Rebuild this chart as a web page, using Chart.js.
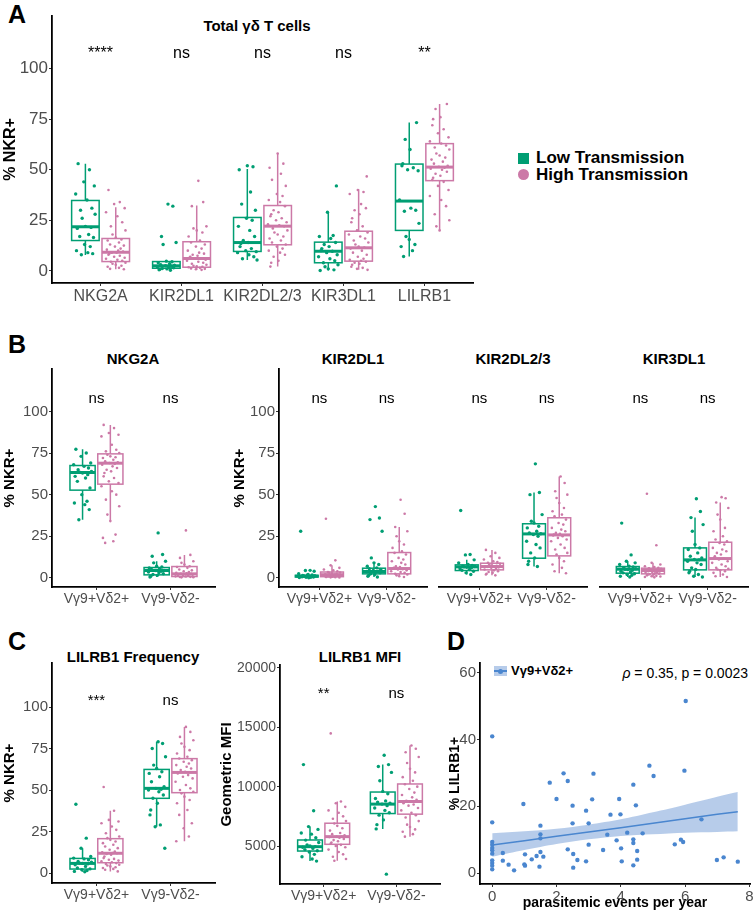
<!DOCTYPE html>
<html>
<head>
<meta charset="utf-8">
<script src="https://cdn.jsdelivr.net/npm/chart.js@4.4.1/dist/chart.umd.min.js"></script>
<style>
  body { margin: 0; width: 755px; height: 914px; position: relative; overflow: hidden; background: #fff;
         font-family: 'Liberation Sans', Arial, Helvetica, sans-serif; color: #000; }
  canvas, .abs { position: absolute; }
  .letter { font-size: 25px; font-weight: bold; line-height: 1; }
  .ttl { font-size: 15px; font-weight: bold; line-height: 18px; text-align: center; width: 200px; }
  .leg { font-size: 17px; font-weight: bold; line-height: 20px; white-space: nowrap; }
</style>
</head>
<body>

<div class="abs letter" style="left:8px;top:2px">A</div>
<div class="abs letter" style="left:8px;top:332px">B</div>
<div class="abs letter" style="left:8px;top:629px">C</div>
<div class="abs letter" style="left:447px;top:629px">D</div>

<div class="abs ttl" style="left:157px;top:17px">Total γδ T cells</div>
<div class="abs ttl" style="left:33px;top:350px">NKG2A</div>
<div class="abs ttl" style="left:253px;top:350px">KIR2DL1</div>
<div class="abs ttl" style="left:413px;top:350px">KIR2DL2/3</div>
<div class="abs ttl" style="left:574px;top:350px">KIR3DL1</div>
<div class="abs ttl" style="left:33px;top:648px">LILRB1 Frequency</div>
<div class="abs ttl" style="left:260px;top:648px">LILRB1 MFI</div>

<!-- legend A -->
<div class="abs" style="left:518px;top:153px;width:11px;height:11px;background:#009E73"></div>
<div class="abs" style="left:518px;top:169px;width:11px;height:11px;border-radius:50%;background:#CC79A7"></div>
<div class="abs leg" style="left:536px;top:148px">Low Transmission</div>
<div class="abs leg" style="left:536px;top:165px">High Transmission</div>

<!-- legend D + correlation text -->
<div class="abs" style="left:494px;top:666px;width:13px;height:10px;background:rgba(95,143,208,0.45)">
  <div class="abs" style="left:0;top:4px;width:13px;height:1.5px;background:#4A86CF"></div>
  <div class="abs" style="left:4px;top:2.5px;width:5px;height:5px;border-radius:50%;background:#4A86CF"></div>
</div>
<div class="abs" style="left:511px;top:662px;font-size:13px;font-weight:bold;line-height:18px">Vγ9+Vδ2+</div>
<div class="abs" style="right:7px;top:664px;font-size:14px;line-height:18px"><i>ρ</i> = 0.35, p = 0.0023</div>

<canvas id="cA" width="480" height="320" style="left:0;top:0"></canvas>
<canvas id="cB1" width="230" height="280" style="left:0;top:330px"></canvas>
<canvas id="cB2" width="205" height="280" style="left:230px;top:330px"></canvas>
<canvas id="cB3" width="157" height="280" style="left:435px;top:330px"></canvas>
<canvas id="cB4" width="163" height="280" style="left:592px;top:330px"></canvas>
<canvas id="cC1" width="225" height="274" style="left:0;top:640px"></canvas>
<canvas id="cC2" width="230" height="274" style="left:217px;top:640px"></canvas>
<canvas id="cD" width="311" height="274" style="left:444px;top:640px"></canvas>

<script>
// ---- Data: box stats are [lower whisker, Q1, median, Q3, upper whisker] ----
const A_CATS = ['NKG2A', 'KIR2DL1', 'KIR2DL2/3', 'KIR3DL1', 'LILRB1'];
const A_SIG = ['****', 'ns', 'ns', 'ns', '**'];
const A_LOW_BOX = [[7.9, 15, 21.8, 34.8, 53], [0.3, 1.3, 2.5, 4.6, 4.8], [5.4, 9.6, 14, 26.4, 50.3], [0.2, 4, 9.7, 14.2, 29], [7.1, 20, 34.5, 52.8, 73.3]];
const A_HIGH_BOX = [[0.8, 4.6, 9.2, 16, 31.5], [0.5, 1.8, 6.1, 14.4, 32.3], [2.1, 12.9, 22.1, 32.3, 58.2], [0.5, 4.8, 11.4, 19.6, 40.4], [20, 44.6, 51.3, 62.9, 82.5]];
const A_LOW_PTS = [
  [53, 50, 44, 42, 38, 35, 31, 30, 28, 26, 22, 21.5, 21, 18, 17, 16.5, 13, 12, 10, 9, 8.5, 8],
  [33, 32, 17, 14, 13, 4.8, 4.5, 4, 3.5, 3, 2.8, 2.5, 2.3, 2, 1.8, 1.5, 1.2, 1, 0.8, 0.5, 0.3],
  [52, 51.5, 50, 39, 33, 30, 26, 25, 22, 20, 17, 15, 14, 13.5, 12, 11, 10, 9.5, 9, 8, 7, 6, 5.4],
  [42, 29, 17.5, 17, 16, 14, 13, 12, 11, 10, 9.7, 9, 8, 7, 6, 5, 4, 3, 2, 1, 0.5, 0.2],
  [73.3, 65, 60, 53, 52, 51, 50, 49.5, 35, 31, 30, 29.5, 23.5, 17, 15.5, 13, 12, 10, 7.1]
];
const A_HIGH_PTS = [
  [40, 34, 33, 31, 29, 27, 24, 22, 20, 18, 16.5, 15.5, 15, 14, 13, 12.5, 12, 11, 10.5, 10, 9.5, 9, 9, 8.5, 8, 7.5, 7, 6.5, 6, 5.5, 5, 4.5, 4, 3.5, 3, 2.5, 2, 1.5, 1, 0.8],
  [44.5, 34, 32, 22, 21, 20, 19, 17, 15, 14, 13, 12, 11, 10, 9, 8.5, 8, 7.5, 7, 6.5, 6, 6, 5.5, 5, 4.5, 4, 3.5, 3, 2.5, 2.2, 2, 1.8, 1.5, 1.2, 1, 0.8, 0.5],
  [58, 53, 51, 48, 45, 42, 38, 37, 35, 34, 32, 30, 29, 28, 27, 26, 25, 24, 23, 22.5, 22, 21, 20, 19, 18, 17, 16, 15, 14, 13, 12, 11, 10, 9, 8, 7, 5, 4, 2.1],
  [46.7, 40, 39, 38, 33, 31, 30, 28, 26, 24, 22, 20, 19, 18, 17, 16, 15, 14, 13, 12, 11.5, 11, 10, 9, 8, 7, 6, 5.5, 5, 4.5, 4, 3.5, 3, 2, 1.5, 1, 0.5],
  [82.5, 80, 76, 75, 72, 70, 68, 66, 64, 63, 62, 61, 60, 58, 57, 56, 55, 54, 53, 52, 51.5, 51, 50.5, 50, 49, 48, 47, 46, 45, 44, 42, 40, 37, 35, 32, 28, 25, 22, 20]
];

const SUBSETS = ['Vγ9+Vδ2+', 'Vγ9-Vδ2-'];
// panel B, one entry per receptor (NKG2A, KIR2DL1, KIR2DL2/3, KIR3DL1), each [Vγ9+Vδ2+, Vγ9-Vδ2-]
const B_SIG = [['ns', 'ns'], ['ns', 'ns'], ['ns', 'ns'], ['ns', 'ns']];
const B_LOW_BOX = [
  [[34.9, 52.7, 63.3, 67.5, 77.3], [0.5, 1.8, 4.4, 6.2, 10]],
  [[0.1, 0.5, 1.0, 1.5, 2.5], [0.5, 2.4, 3.8, 5.8, 9]],
  [[2, 4.4, 6.6, 7.8, 10.8], [6.8, 11.8, 26.4, 32.5, 51.3]],
  [[0.5, 2.8, 5.2, 6.8, 10], [0.5, 4.8, 10.8, 18, 36.2]]
];
const B_HIGH_BOX = [
  [[34.1, 56.3, 68.9, 74.5, 91.9], [0.3, 0.8, 2.4, 6.8, 13.8]],
  [[0.2, 0.7, 1.9, 3.5, 7.5], [0.5, 2.4, 5.6, 15.2, 30.6]],
  [[1.5, 4.8, 6.8, 8.8, 16.8], [2.8, 13.2, 25.8, 36.1, 60.9]],
  [[0.3, 2.4, 4.4, 5.8, 9], [0.5, 4.8, 11.6, 21.4, 45.3]]
];
const B_LOW_PTS = [
  [[77.3, 75, 73, 69, 68, 67, 66, 65, 64, 63.5, 63, 62, 61, 60, 58, 54, 50, 46, 45, 44, 41, 34.9],
   [27, 14, 13, 10, 9, 7, 6.5, 6, 5.5, 5, 4.5, 4.4, 4, 3.5, 3, 2.5, 2, 1.5, 1, 0.5]],
  [[28, 4.5, 4.4, 4, 2.5, 2, 1.8, 1.5, 1.3, 1.1, 1, 0.9, 0.8, 0.7, 0.6, 0.5, 0.4, 0.3, 0.2, 0.1],
   [42.8, 36, 35, 28, 12, 9, 8, 7, 6, 5.5, 5, 4.5, 4, 3.8, 3.5, 3, 2.5, 2, 1.5, 1, 0.5]],
  [[40.5, 14, 13.8, 10.8, 9, 8, 7.5, 7, 6.8, 6.6, 6.4, 6, 5.5, 5, 4.5, 4, 3, 2],
   [68.5, 51.3, 50, 38, 34, 33, 31, 30, 28, 27, 26.5, 26, 25, 22, 20, 18, 15, 12, 10, 8, 6.8]],
  [[32.9, 13.8, 10, 9, 8, 7, 6.5, 6, 5.5, 5.2, 5, 4.5, 4, 3.5, 3, 2.5, 2, 1.5, 1, 0.5],
   [47.5, 39.9, 36.2, 32, 28, 20, 18, 17, 15, 13, 12, 11, 10.8, 10, 9, 8, 6, 5, 4, 3, 2, 1, 0.5]]
];
const B_HIGH_PTS = [
  [[91.9, 90, 87, 86, 85, 80, 77, 76, 75, 74, 73, 72.5, 72, 71, 70, 69.5, 69, 68.5, 68, 67, 66, 65, 64, 63, 61, 60, 58, 57, 55, 52, 50, 47, 43, 38, 34.1, 26, 24, 22, 21],
   [28.5, 13.8, 12, 10, 9, 8, 7, 6.5, 6, 5, 4.5, 4, 3.5, 3, 2.8, 2.5, 2.4, 2.2, 2, 1.8, 1.5, 1.2, 1, 0.9, 0.8, 0.6, 0.5, 0.4, 0.3]],
  [[35.5, 10.5, 7.5, 6, 5, 4.5, 4, 3.5, 3.2, 3, 2.8, 2.5, 2.2, 2, 1.9, 1.8, 1.6, 1.4, 1.2, 1, 0.9, 0.8, 0.7, 0.6, 0.5, 0.4, 0.3, 0.2],
   [46.9, 38.5, 30.6, 28, 25, 22, 20, 18, 16, 15, 14, 12, 11, 10, 9, 8, 7, 6.5, 6, 5.6, 5.2, 5, 4.5, 4, 3.5, 3, 2.5, 2, 1.5, 1, 0.5]],
  [[16.8, 15, 13, 12, 11, 10, 9.5, 9, 8.5, 8, 7.5, 7.2, 7, 6.8, 6.6, 6.3, 6, 5.5, 5, 4.5, 4, 3.5, 3, 2.5, 2, 1.5],
   [60.9, 57, 52, 50, 48, 45, 42, 40, 38, 37, 35, 33, 32, 30, 29, 28, 27, 26.5, 26, 25.5, 25, 24, 23, 22, 20, 18, 17, 15, 14, 12, 10, 8, 6, 4, 2.8]],
  [[50.5, 19.6, 9, 8, 7, 6.5, 6, 5.8, 5.5, 5, 4.8, 4.6, 4.4, 4.2, 4, 3.8, 3.5, 3.2, 3, 2.8, 2.5, 2.2, 2, 1.8, 1.5, 1.2, 1, 0.8, 0.5, 0.3],
   [48.5, 47.8, 45.3, 42, 38, 35, 30, 28, 25, 23, 22, 21, 20, 18, 17, 16, 15, 14, 13, 12, 11.6, 11, 10, 9, 8, 7, 6, 5.5, 5, 4.5, 4, 3, 2, 1, 0.5]]
];

const C_FREQ_SIG = ['***', 'ns'];
const C_FREQ_LOW_BOX = [[0.8, 2.4, 5.8, 8.8, 14.9], [27.9, 45, 51, 62.4, 79.1]];
const C_FREQ_HIGH_BOX = [[1, 6.2, 11.9, 20.7, 37.5], [19.1, 48.4, 60.6, 68.9, 88]];
const C_FREQ_LOW_PTS = [
  [41.4, 21, 14.9, 10, 9, 8.5, 8, 7, 6.5, 6, 5.8, 5.5, 5, 4, 3, 2.5, 2, 1.5, 1, 0.8],
  [79.1, 78, 75, 70, 65, 63, 61, 60, 58, 55, 52, 51, 50.5, 50, 49, 47, 45, 42, 38, 35, 29, 27.9, 14.9]
];
const C_FREQ_HIGH_PTS = [
  [51.8, 37.5, 32, 31, 30, 28, 26, 24, 22, 21, 20, 19, 18, 17, 16, 15, 14, 13, 12.5, 12, 11.9, 11.5, 11, 10, 9, 8.5, 8, 7.5, 7, 6.5, 6, 5.5, 5, 4.5, 4, 3.5, 3, 2.5, 2, 1],
  [88, 85, 82, 80, 78, 76, 74, 72, 70, 69, 68, 67, 66, 65, 64, 63, 62, 61, 60.6, 60, 59, 58, 57, 55, 53, 51, 50, 49, 48, 46, 44, 42, 38, 35, 30, 27, 22, 19.1]
];

const C_MFI_SIG = ['**', 'ns'];
const C_MFI_LOW_BOX = [[3730, 4577, 4944, 5508, 6635], [6440, 7736, 8530, 9548, 11860]];
const C_MFI_HIGH_BOX = [[3757, 5144, 5790, 6920, 8755], [5790, 7684, 8752, 10226, 13470]];
const C_MFI_LOW_PTS = [
  [11860, 7965, 6635, 6400, 6100, 6000, 5700, 5500, 5300, 5100, 5000, 4950, 4900, 4800, 4700, 4600, 4500, 4300, 4100, 3900, 3730],
  [12650, 11860, 11700, 11200, 10500, 9600, 9400, 9000, 8800, 8700, 8600, 8530, 8400, 8200, 8000, 7800, 7600, 7200, 6800, 6440, 2628]
];
const C_MFI_HIGH_PTS = [
  [14486, 8755, 8600, 8300, 8000, 7800, 7500, 7300, 7100, 6900, 6700, 6500, 6300, 6100, 6000, 5900, 5800, 5790, 5750, 5700, 5600, 5500, 5400, 5300, 5200, 5100, 5000, 4900, 4700, 4500, 4300, 4100, 3900, 3757],
  [13470, 13200, 12900, 12500, 12000, 11500, 11200, 10800, 10500, 10200, 10000, 9800, 9500, 9300, 9100, 8900, 8800, 8752, 8700, 8600, 8500, 8400, 8200, 8000, 7800, 7600, 7400, 7100, 6800, 6600, 6400, 6200, 6000, 5790]
];

// panel D: [parasitemic events per year, % LILRB1+]
const D_POINTS = [
  [0, 41], [0, 15.2], [0, 9.3], [0, 8.5], [0, 7.5], [0, 6.8], [0, 5.8], [0, 3.8], [0, 3.0], [0, 2.2], [0, 1.1],
  [0.33, 6.0], [0.33, 3.7], [0.51, 2.5], [0.68, 0.8], [0.97, 20.7], [1.02, 5.6], [1.0, 2.6], [1.02, 2.2], [1.23, 4.1], [1.38, 5.1],
  [1.5, 14.2], [1.5, 11.6], [1.5, 10.4], [1.5, 6.3], [1.47, 1.9], [1.59, 4.9], [1.79, 27.1], [2.0, 22.2], [2.22, 29.9], [2.35, 27.6], [2.35, 7.1],
  [2.5, 20.2], [2.5, 14.9], [2.52, 5.7], [2.52, 1.6], [2.65, 3.9], [2.92, 18.7], [2.92, 3.5], [3.0, 14.9], [3.0, 8.5], [3.11, 22.1], [3.15, 29.8], [3.45, 6.9],
  [3.58, 11.5], [3.68, 17.5], [3.87, 9.8], [3.95, 22.2], [3.99, 17.6], [4.01, 7.4], [4.03, 3.5], [4.2, 12.1], [4.39, 26.5], [4.39, 10.1], [4.39, 9.0], [4.39, 2.3],
  [4.47, 20.3], [4.51, 6.6], [4.51, 4.0], [4.68, 11.9], [4.89, 32.2], [5.02, 29.1], [5.68, 8.6], [5.87, 10.0], [5.94, 9.3], [5.98, 30.7], [6.02, 51.6], [6.51, 16.1], [6.99, 3.9], [7.2, 4.7], [7.64, 3.4]
];
const D_FIT_X = [0, 1, 2, 3, 4, 5, 6, 7, 7.64];
const D_FIT_Y = [8.4, 9.7, 11.0, 12.3, 13.6, 14.9, 16.3, 17.6, 18.4];
const D_FIT_LO = [4.9, 6.9, 8.7, 10.1, 11.1, 11.6, 12.1, 12.3, 12.5];
const D_FIT_HI = [11.9, 12.5, 13.3, 14.5, 16.1, 18.2, 20.5, 22.9, 24.3];

const PCT_TICKS = [0, 25, 50, 75, 100];
const MFI_TICKS = [5000, 10000, 15000, 20000];
const D_X_TICKS = [0, 2, 4, 6, 8];
const D_Y_TICKS = [0, 20, 40, 60];

// ---- styling ----
const GREEN = '#009E73', PINK = '#CC79A7', BLUE = '#4A86CF';
const BAND = 'rgba(95,143,208,0.45)';
const GREY = '#4D4D4D';
const FONT = "'Liberation Sans', Arial, Helvetica, sans-serif";
const DODGE = 0.1875, BOX_W = 0.34;
// fixed horizontal spread for the dots, cycled per point
const JITTER = [-0.09, 0.05, -0.02, 0.11, -0.12, 0.02, 0.08, -0.06, 0.12, -0.04, 0.0, 0.07, -0.1, 0.04, -0.07, 0.1, -0.01, 0.06, -0.11, 0.03, 0.09, -0.05, 0.01, -0.08];

Chart.defaults.font.family = FONT;

function boxLayer(groups, sig, sigY, sigSize) {
    return {
        id: 'boxes',
        beforeDatasetsDraw(chart) {
            const { ctx, scales: { x, y } } = chart;
            const half = (x.getPixelForValue(BOX_W) - x.getPixelForValue(0)) / 2;
            ctx.save();
            groups.forEach(g => {
                g.box.forEach((s, c) => {
                    const [lo, q1, med, q3, hi] = s;
                    const cx = x.getPixelForValue(c + g.off);
                    const top = y.getPixelForValue(q3), bot = y.getPixelForValue(q1);
                    ctx.strokeStyle = g.color;
                    ctx.lineWidth = 1.5;
                    ctx.beginPath();
                    ctx.moveTo(cx, y.getPixelForValue(hi)); ctx.lineTo(cx, top);
                    ctx.moveTo(cx, bot); ctx.lineTo(cx, y.getPixelForValue(lo));
                    ctx.stroke();
                    ctx.strokeRect(cx - half, top, half * 2, bot - top);
                    const m = y.getPixelForValue(med);
                    ctx.lineWidth = 3;
                    ctx.beginPath();
                    ctx.moveTo(cx - half, m); ctx.lineTo(cx + half, m);
                    ctx.stroke();
                });
            });
            ctx.restore();
        },
        afterDatasetsDraw(chart) {
            const { ctx, scales: { x, y } } = chart;
            ctx.save();
            ctx.fillStyle = '#000';
            ctx.font = sigSize + 'px ' + FONT;
            ctx.textAlign = 'center';
            ctx.textBaseline = 'alphabetic';
            sig.forEach((t, c) => ctx.fillText(t, x.getPixelForValue(c), y.getPixelForValue(sigY)));
            ctx.restore();
        }
    };
}

function boxChart(id, o) {
    const groups = [
        { color: GREEN, off: -DODGE, box: o.lowBox, pts: o.lowPts, r: 1.7 },
        { color: PINK, off: DODGE, box: o.highBox, pts: o.highPts, r: 1.3 }
    ];
    const datasets = groups.map(g => ({
        data: g.pts.flatMap((vals, c) => vals.map((v, i) => ({ x: c + g.off + JITTER[(i + c * 5) % JITTER.length], y: v }))),
        backgroundColor: g.color,
        pointRadius: g.r,
        pointBorderWidth: 0
    }));
    const showY = o.showY !== false;
    return new Chart(document.getElementById(id), {
        type: 'scatter',
        data: { datasets },
        options: {
            responsive: false, animation: false, events: [],
            layout: { padding: o.pad },
            plugins: { legend: { display: false }, tooltip: { enabled: false } },
            scales: {
                x: {
                    type: 'linear', min: -0.6, max: o.cats.length - 0.4,
                    afterBuildTicks: s => { s.ticks = o.cats.map((_, i) => ({ value: i })); },
                    afterFit: s => { s.height = o.xh; },
                    ticks: { callback: v => o.cats[v], color: GREY, font: { size: o.xFont }, padding: 1, maxRotation: 0, autoSkip: false },
                    grid: { drawOnChartArea: false, tickLength: 3, color: '#333' },
                    border: { color: '#000', width: 1.8 }
                },
                y: {
                    display: showY, min: o.yMin, max: o.yMax,
                    afterBuildTicks: s => { s.ticks = o.yTicks.map(v => ({ value: v })); },
                    afterFit: s => { s.width = showY ? o.yw : 0; },
                    ticks: { callback: v => String(v), color: GREY, font: { size: o.yFont }, padding: 1 },
                    grid: { drawOnChartArea: false, tickLength: 3, color: '#333' },
                    border: { color: '#000', width: 1.8 },
                    title: { display: !!o.yTitle, text: o.yTitle || '', color: '#000', font: { size: o.titleFont || 15, weight: 'bold' }, padding: { top: 1, bottom: 0 } }
                }
            }
        },
        plugins: [boxLayer(groups, o.sig, o.sigY, o.sigSize)]
    });
}

boxChart('cA', {
    cats: A_CATS, sig: A_SIG, lowBox: A_LOW_BOX, highBox: A_HIGH_BOX, lowPts: A_LOW_PTS, highPts: A_HIGH_PTS,
    pad: { top: 16, right: 7, left: 0, bottom: 0 }, yw: 52, xh: 37, yMin: -6, yMax: 126, yTicks: PCT_TICKS,
    yFont: 17, xFont: 16, yTitle: '% NKR+', titleFont: 16, sigY: 105, sigSize: 16
});

const B_IDS = ['cB1', 'cB2', 'cB3', 'cB4'];
const B_LAYOUT = [
    { pad: { top: 39, right: 15, left: 0, bottom: 0 }, yw: 52, yTitle: '% NKR+' },
    { pad: { top: 39, right: 8, left: 0, bottom: 0 }, yw: 49, yTitle: '% NKR+' },
    { pad: { top: 39, right: 5, left: 4, bottom: 0 }, showY: false },
    { pad: { top: 39, right: 7, left: 8, bottom: 0 }, showY: false }
];
B_IDS.forEach((id, k) => {
    boxChart(id, Object.assign({
        cats: SUBSETS, sig: B_SIG[k], lowBox: B_LOW_BOX[k], highBox: B_HIGH_BOX[k], lowPts: B_LOW_PTS[k], highPts: B_HIGH_PTS[k],
        xh: 23, yMin: -5.5, yMax: 125.5, yTicks: PCT_TICKS, yFont: 15, xFont: 14, sigY: 105, sigSize: 15
    }, B_LAYOUT[k]));
});

boxChart('cC1', {
    cats: SUBSETS, sig: C_FREQ_SIG, lowBox: C_FREQ_LOW_BOX, highBox: C_FREQ_HIGH_BOX, lowPts: C_FREQ_LOW_PTS, highPts: C_FREQ_HIGH_PTS,
    pad: { top: 23, right: 10, left: 0, bottom: 0 }, yw: 52, xh: 31, yMin: -6, yMax: 126.5, yTicks: PCT_TICKS,
    yFont: 15, xFont: 14, yTitle: '% NKR+', sigY: 101, sigSize: 15
});

boxChart('cC2', {
    cats: SUBSETS, sig: C_MFI_SIG, lowBox: C_MFI_LOW_BOX, highBox: C_MFI_HIGH_BOX, lowPts: C_MFI_LOW_PTS, highPts: C_MFI_HIGH_PTS,
    pad: { top: 25, right: 7, left: 0, bottom: 0 }, yw: 63, xh: 30, yMin: 1800, yMax: 20250, yTicks: MFI_TICKS,
    yFont: 14, xFont: 14, yTitle: 'Geometric MFI', titleFont: 15, sigY: 17500, sigSize: 15
});

// ---- panel D: scatter with linear fit and confidence band ----
new Chart(document.getElementById('cD'), {
    type: 'scatter',
    data: {
        datasets: [
            { data: D_POINTS.map(([x, y]) => ({ x, y })), backgroundColor: BLUE, pointRadius: 2.2, pointBorderWidth: 0 },
            { type: 'line', data: D_FIT_X.map((x, i) => ({ x, y: D_FIT_Y[i] })), borderColor: BLUE, borderWidth: 1.5, pointRadius: 0, fill: false },
            { type: 'line', data: D_FIT_X.map((x, i) => ({ x, y: D_FIT_HI[i] })), borderColor: 'transparent', borderWidth: 0, pointRadius: 0, tension: 0.3, fill: '+1', backgroundColor: BAND },
            { type: 'line', data: D_FIT_X.map((x, i) => ({ x, y: D_FIT_LO[i] })), borderColor: 'transparent', borderWidth: 0, pointRadius: 0, tension: 0.3, fill: false }
        ]
    },
    options: {
        responsive: false, animation: false, events: [],
        layout: { padding: { top: 23, right: 5, left: 0, bottom: 0 } },
        plugins: { legend: { display: false }, tooltip: { enabled: false } },
        scales: {
            x: {
                type: 'linear', min: -0.38, max: 8.02,
                afterBuildTicks: s => { s.ticks = D_X_TICKS.map(v => ({ value: v })); },
                afterFit: s => { s.height = 30; },
                ticks: { color: GREY, font: { size: 15 }, padding: 1, maxRotation: 0 },
                grid: { drawOnChartArea: false, tickLength: 3, color: '#333' },
                border: { color: '#000', width: 1.8 },
                title: { display: true, text: 'parasitemic events per year', color: '#000', font: { size: 14, weight: 'bold' }, padding: { top: 0, bottom: 2 } }
            },
            y: {
                min: -3.3, max: 63,
                afterBuildTicks: s => { s.ticks = D_Y_TICKS.map(v => ({ value: v })); },
                afterFit: s => { s.width = 36; },
                ticks: { color: GREY, font: { size: 15 }, padding: 1 },
                grid: { drawOnChartArea: false, tickLength: 3, color: '#333' },
                border: { color: '#000', width: 1.8 },
                title: { display: true, text: '% LILRB1+', color: '#000', font: { size: 14, weight: 'bold' }, padding: { top: 3, bottom: 0 } }
            }
        }
    }
});
</script>
</body>
</html>
